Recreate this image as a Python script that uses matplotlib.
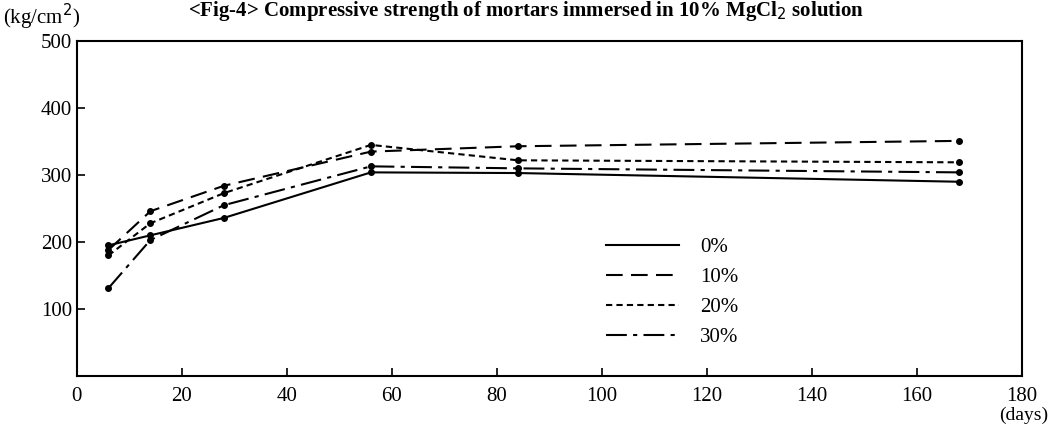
import matplotlib.pyplot as plt

plt.rcParams['font.family'] = ['Liberation Serif', 'DejaVu Serif']

days = [6, 14, 28, 56, 84, 168]
s0 = [195, 210, 236, 304, 303, 290]
s10 = [188, 246, 284, 335, 343, 351]
s20 = [180, 228, 273, 345, 322, 319]
s30 = [131, 203, 255, 313, 310, 304]
labels = ["0%", "10%", "20%", "30%"]

fig = plt.figure(figsize=(10.53, 4.28), dpi=100)
ax = fig.add_axes([0.073, 0.1215, 0.8976, 0.7825])

ax.plot(days, s0, color='k', lw=1.5, ls='-', marker='o', ms=4, label=labels[0])
ax.plot(days, s10, color='k', lw=1.5, ls=(0, (8, 4)), marker='o', ms=4, label=labels[1])
ax.plot(days, s20, color='k', lw=1.5, ls=(0, (3, 2)), marker='o', ms=4, label=labels[2])
ax.plot(days, s30, color='k', lw=1.5, ls=(0, (10, 3, 2, 3)), marker='o', ms=4, label=labels[3])

ax.set_xlim(0, 180)
ax.set_ylim(0, 500)
ax.set_xticks(range(0, 181, 20))
ax.set_yticks([100, 200, 300, 400, 500])
ax.tick_params(direction='in', length=6, width=1.2, labelsize=15)
ax.tick_params(axis='x', pad=8)
for sp in ax.spines.values():
    sp.set_linewidth(1.5)

leg = ax.legend(loc='upper left', bbox_to_anchor=(0.54, 0.47), frameon=False,
                fontsize=15, handlelength=3.5, labelspacing=0.5, markerscale=0,
                handletextpad=1.0)
for h in leg.legend_handles:
    h.set_marker('')

fig.text(0.003, 1 - 17 / 428, "(kg/cm$^2$)", fontsize=15, ha='left', va='center')
fig.text(1048 / 1053, 1 - 415 / 428, "(days)", fontsize=14, ha='right', va='center')
fig.text(0.5, 1 - 16 / 428, "<Fig-4> Compressive strength of mortars immersed in 10% MgCl$_2$ solution",
         fontsize=15, fontweight='bold', ha='center', va='baseline')

fig.savefig("out.png", dpi=100)
